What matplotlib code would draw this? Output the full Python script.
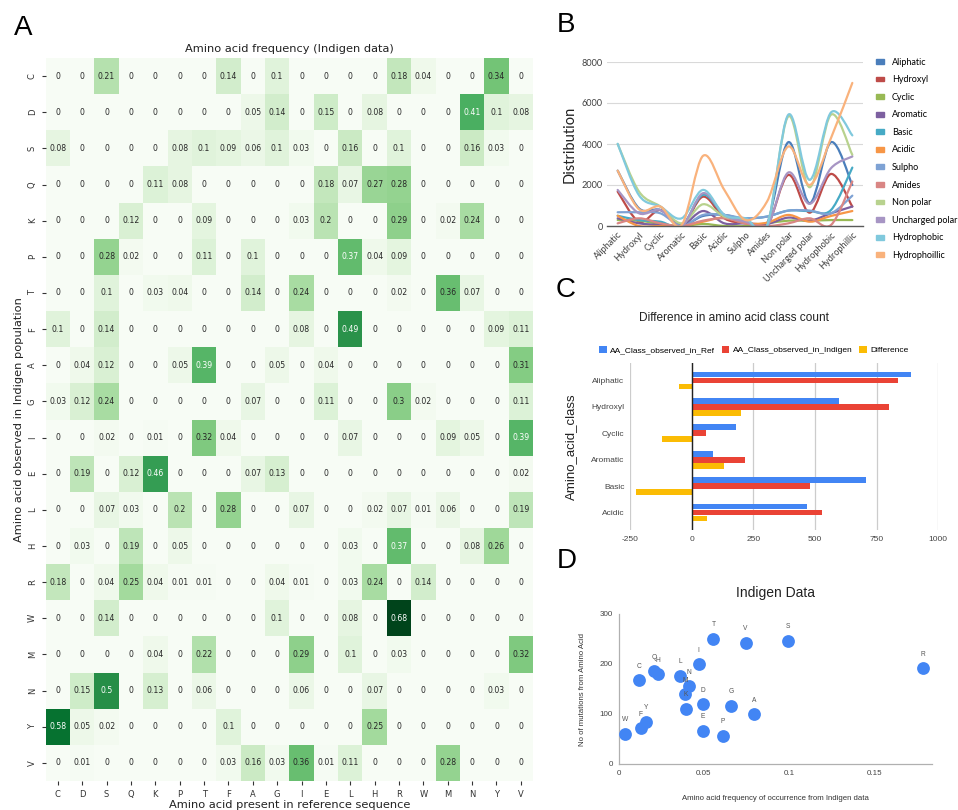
import numpy as np
import seaborn as sns
from matplotlib import pyplot as plt
from matplotlib.path import Path
from matplotlib.patches import PathPatch, Patch

plt.rcParams['axes.unicode_minus'] = False

# ---- panel A: amino acid substitution frequency (rows = observed, cols = reference)
aa_ref = ['C', 'D', 'S', 'Q', 'K', 'P', 'T', 'F', 'A', 'G', 'I', 'E', 'L', 'H', 'R', 'W', 'M', 'N', 'Y', 'V']
aa_obs = ['C', 'D', 'S', 'Q', 'K', 'P', 'T', 'F', 'A', 'G', 'I', 'E', 'L', 'H', 'R', 'W', 'M', 'N', 'Y', 'V']
freq = [
    [0, 0, 0.21, 0, 0, 0, 0, 0.14, 0, 0.1, 0, 0, 0, 0, 0.18, 0.04, 0, 0, 0.34, 0],
    [0, 0, 0, 0, 0, 0, 0, 0, 0.05, 0.14, 0, 0.15, 0, 0.08, 0, 0, 0, 0.41, 0.1, 0.08],
    [0.08, 0, 0, 0, 0, 0.08, 0.1, 0.09, 0.06, 0.1, 0.03, 0, 0.16, 0, 0.1, 0, 0, 0.16, 0.03, 0],
    [0, 0, 0, 0, 0.11, 0.08, 0, 0, 0, 0, 0, 0.18, 0.07, 0.27, 0.28, 0, 0, 0, 0, 0],
    [0, 0, 0, 0.12, 0, 0, 0.09, 0, 0, 0, 0.03, 0.2, 0, 0, 0.29, 0, 0.02, 0.24, 0, 0],
    [0, 0, 0.28, 0.02, 0, 0, 0.11, 0, 0.1, 0, 0, 0, 0.37, 0.04, 0.09, 0, 0, 0, 0, 0],
    [0, 0, 0.1, 0, 0.03, 0.04, 0, 0, 0.14, 0, 0.24, 0, 0, 0, 0.02, 0, 0.36, 0.07, 0, 0],
    [0.1, 0, 0.14, 0, 0, 0, 0, 0, 0, 0, 0.08, 0, 0.49, 0, 0, 0, 0, 0, 0.09, 0.11],
    [0, 0.04, 0.12, 0, 0, 0.05, 0.39, 0, 0, 0.05, 0, 0.04, 0, 0, 0, 0, 0, 0, 0, 0.31],
    [0.03, 0.12, 0.24, 0, 0, 0, 0, 0, 0.07, 0, 0, 0.11, 0, 0, 0.3, 0.02, 0, 0, 0, 0.11],
    [0, 0, 0.02, 0, 0.01, 0, 0.32, 0.04, 0, 0, 0, 0, 0.07, 0, 0, 0, 0.09, 0.05, 0, 0.39],
    [0, 0.19, 0, 0.12, 0.46, 0, 0, 0, 0.07, 0.13, 0, 0, 0, 0, 0, 0, 0, 0, 0, 0.02],
    [0, 0, 0.07, 0.03, 0, 0.2, 0, 0.28, 0, 0, 0.07, 0, 0, 0.02, 0.07, 0.01, 0.06, 0, 0, 0.19],
    [0, 0.03, 0, 0.19, 0, 0.05, 0, 0, 0, 0, 0, 0, 0.03, 0, 0.37, 0, 0, 0.08, 0.26, 0],
    [0.18, 0, 0.04, 0.25, 0.04, 0.01, 0.01, 0, 0, 0.04, 0.01, 0, 0.03, 0.24, 0, 0.14, 0, 0, 0, 0],
    [0, 0, 0.14, 0, 0, 0, 0, 0, 0, 0.1, 0, 0, 0.08, 0, 0.68, 0, 0, 0, 0, 0],
    [0, 0, 0, 0, 0.04, 0, 0.22, 0, 0, 0, 0.29, 0, 0.1, 0, 0.03, 0, 0, 0, 0, 0.32],
    [0, 0.15, 0.5, 0, 0.13, 0, 0.06, 0, 0, 0, 0.06, 0, 0, 0.07, 0, 0, 0, 0, 0.03, 0],
    [0.58, 0.05, 0.02, 0, 0, 0, 0, 0.1, 0, 0, 0, 0, 0, 0.25, 0, 0, 0, 0, 0, 0],
    [0, 0.01, 0, 0, 0, 0, 0, 0.03, 0.16, 0.03, 0.36, 0.01, 0.11, 0, 0, 0, 0.28, 0, 0, 0],
]

# ---- panel B: class distribution
b_categories = ['Aliphatic', 'Hydroxyl', 'Cyclic', 'Aromatic', 'Basic', 'Acidic', 'Sulpho', 'Amides',
                'Non polar', 'Uncharged polar', 'Hydrophobic', 'Hydrophillic']
aliphatic = [2700, 860, 780, 50, 490, 540, 290, 130, 4090, 1110, 4090, 2000]
hydroxyl = [1680, 210, 780, 0, 1430, 375, 130, 0, 2490, 650, 2540, 950]
cyclic = [290, 260, 100, 0, 100, 0, 0, 130, 260, 260, 290, 290]
aromatic = [375, 130, 50, 0, 730, 130, 130, 100, 410, 260, 620, 950]
basic = [500, 290, 210, 0, 1520, 540, 375, 460, 750, 730, 780, 2850]
acidic = [500, 0, 0, 0, 210, 410, 130, 160, 540, 210, 490, 730]
sulpho = [670, 670, 620, 0, 540, 540, 375, 460, 750, 750, 620, 1480]
amides = [130, 375, 130, 0, 260, 375, 130, 0, 130, 375, 50, 2170]
non_polar = [4000, 1680, 950, 130, 1060, 460, 290, 0, 5350, 1890, 5430, 3470]
uncharged_polar = [1760, 620, 780, 0, 1600, 540, 210, 0, 2610, 1080, 2820, 3390]
hydrophobic = [4010, 1500, 950, 375, 1760, 540, 375, 0, 5430, 2250, 5540, 4420]
hydrophillic = [2700, 815, 950, 50, 3420, 1760, 290, 1190, 3880, 2000, 4290, 6980]
b_series = [('Aliphatic', aliphatic, '#4a7ebb'), ('Hydroxyl', hydroxyl, '#be4b48'),
            ('Cyclic', cyclic, '#98b954'), ('Aromatic', aromatic, '#7d60a0'),
            ('Basic', basic, '#46aac5'), ('Acidic', acidic, '#f79646'),
            ('Sulpho', sulpho, '#7ea2d4'), ('Amides', amides, '#d98684'),
            ('Non polar', non_polar, '#b8d28e'), ('Uncharged polar', uncharged_polar, '#a795c4'),
            ('Hydrophobic', hydrophobic, '#80c9dd'), ('Hydrophoillic', hydrophillic, '#f9b27c')]

# ---- panel C: class counts
c_classes = ['Aliphatic', 'Hydroxyl', 'Cyclic', 'Aromatic', 'Basic', 'Acidic']
count_ref = [888, 599, 178, 86, 707, 466]
count_indigen = [835, 801, 58, 218, 481, 527]
count_diff = [-53, 202, -120, 132, -226, 61]

# ---- panel D: frequency vs number of mutations
d_labels = ['W', 'F', 'Y', 'C', 'Q', 'H', 'L', 'N', 'M', 'K', 'I', 'T', 'V', 'S', 'R', 'D', 'G', 'A', 'E', 'P']
d_freq = [0.0037, 0.013, 0.016, 0.012, 0.021, 0.023, 0.036, 0.041, 0.039, 0.0395,
          0.047, 0.0556, 0.0745, 0.0996, 0.1786, 0.0494, 0.066, 0.0796, 0.0494, 0.061]
d_mutations = [61, 72, 85, 168, 186, 180, 177, 156, 140, 111,
               200, 251, 243, 247, 192, 120, 117, 100, 67, 57]


def smooth_path(xs, ys):
    # excel-like smoothed line as cubic bezier segments
    pts = np.column_stack([xs, ys]).astype(float)
    n = len(pts)
    verts = [pts[0]]
    codes = [Path.MOVETO]
    for i in range(n - 1):
        p0 = pts[i - 1] if i > 0 else pts[i]
        p1 = pts[i]
        p2 = pts[i + 1]
        p3 = pts[i + 2] if i + 2 < n else pts[i + 1]
        verts += [p1 + (p2 - p0) / 6, p2 - (p3 - p1) / 6, p2]
        codes += [Path.CURVE4] * 3
    return Path(verts, codes)


W, H = 958, 810
fig = plt.figure(figsize=(W / 100, H / 100), dpi=100)


def px_axes(l, t, r, b):
    return fig.add_axes([l / W, 1 - b / H, (r - l) / W, (b - t) / H])


# ---------------- A
ax0 = px_axes(45.7, 58, 533, 781)
sns.heatmap(np.array(freq), ax=ax0, cmap='Greens', annot=True, fmt='g', cbar=False,
            xticklabels=aa_ref, yticklabels=aa_obs, annot_kws={'size': 5.6})
ax0.set_yticklabels(aa_obs, rotation=90, fontsize=6, va='center', color='#333333')
ax0.set_xticklabels(aa_ref, rotation=0, fontsize=6, color='#333333')
ax0.tick_params(length=3, width=0.8, colors='#333333')
ax0.set_title('Amino acid frequency (Indigen data)', fontsize=8.2, pad=4, color='#222222')
ax0.set_xlabel('Amino acid present in reference sequence', fontsize=8.2, labelpad=1, color='#222222')
ax0.set_ylabel('Amino acid observed in Indigen population', fontsize=8.2, labelpad=3, color='#222222')

# ---------------- B
ax1 = px_axes(607, 62, 863, 226)
xb = np.arange(len(b_categories))
for name, vals, col in b_series:
    ax1.add_patch(PathPatch(smooth_path(xb, vals), fill=False, edgecolor=col, lw=1.6,
                            capstyle='round', joinstyle='round'))
ax1.set_xlim(-0.5, len(b_categories) - 0.5)
ax1.set_ylim(0, 8000)
ax1.set_yticks([0, 2000, 4000, 6000, 8000])
ax1.grid(axis='y', color='#d9d9d9', lw=0.8)
ax1.set_axisbelow(True)
for s in ['top', 'right', 'left']:
    ax1.spines[s].set_visible(False)
ax1.spines['bottom'].set_color('#595959')
ax1.spines['bottom'].set_linewidth(1.0)
ax1.tick_params(length=0, labelsize=6.6, colors='#404040', pad=3)
ax1.set_xticks(xb)
ax1.set_xticklabels(b_categories, rotation=45, ha='right', rotation_mode='anchor', family='Lato')
for lab in ax1.get_yticklabels():
    lab.set_family('Lato')
ax1.set_ylabel('Distribution', fontsize=10.5, family='Lato', labelpad=4, color='#222222')
handles = [Patch(color=col, label=name) for name, vals, col in b_series]
fig.legend(handles=handles, loc='upper left', bbox_to_anchor=(872 / W, 1 - 54 / H), frameon=False,
           prop={'family': 'Lato', 'size': 6.5}, handlelength=0.9, handleheight=0.45,
           handletextpad=0.9, labelspacing=0.95, borderaxespad=0)

# ---------------- C
ax2 = px_axes(630, 363, 938.3, 530)
yc = np.arange(len(c_classes))
bh = 0.215
off = 0.228
ax2.barh(yc - off, count_ref, height=bh, color='#4285f4', label='AA_Class_observed_in_Ref')
ax2.barh(yc, count_indigen, height=bh, color='#ea4335', label='AA_Class_observed_in_Indigen')
ax2.barh(yc + off, count_diff, height=bh, color='#fbbc04', label='Difference')
ax2.set_xlim(-250, 1000)
pad = (167 / 26.4 - 6) / 2
ax2.set_ylim(len(c_classes) - 0.5 + pad, -0.5 - pad)
ax2.set_xticks([-250, 0, 250, 500, 750, 1000])
ax2.set_yticks(yc)
ax2.set_yticklabels(c_classes)
ax2.grid(axis='x', color='#cccccc', lw=0.9)
ax2.set_axisbelow(True)
ax2.axvline(0, color='#222222', lw=1.0)
for s in ax2.spines.values():
    s.set_visible(False)
ax2.tick_params(length=0, labelsize=6.0, colors='#444444', pad=4)
for lab in ax2.get_xticklabels() + ax2.get_yticklabels():
    lab.set_family('Liberation Sans')
ax2.set_ylabel('Amino_acid_class', fontsize=9.5, family='Liberation Sans', labelpad=10, color='#222222')
fig.text(734 / W, 1 - 318 / H, 'Difference in amino acid class count', ha='center', va='center',
         fontsize=8.6, family='Liberation Sans', color='#222222')
fig.legend(*ax2.get_legend_handles_labels(), loc='center left', bbox_to_anchor=(596 / W, 1 - 350 / H),
           ncol=3, frameon=False, prop={'family': 'Liberation Sans', 'size': 6.0},
           handlelength=0.9, handleheight=0.9, handletextpad=0.4, columnspacing=0.8, borderaxespad=0)

# ---------------- D
ax3 = px_axes(618.7, 614, 931.7, 764)
ax3.scatter(d_freq, d_mutations, s=85, color='#4285f4', zorder=3, linewidths=0)
for lab, x, y in zip(d_labels, d_freq, d_mutations):
    ax3.annotate(lab, (x, y), xytext=(0, 10), textcoords='offset points', ha='center', va='center',
                 fontsize=4.8, color='#555555', family='Liberation Sans')
ax3.set_xlim(0, 0.1837)
ax3.set_ylim(0, 300)
ax3.set_xticks([0, 0.05, 0.1, 0.15])
ax3.set_xticklabels(['0', '0.05', '0.1', '0.15'])
ax3.set_yticks([0, 100, 200, 300])
for s in ['top', 'right']:
    ax3.spines[s].set_visible(False)
for s in ['left', 'bottom']:
    ax3.spines[s].set_color('#b0b0b0')
    ax3.spines[s].set_linewidth(0.9)
ax3.tick_params(length=0, labelsize=5.8, colors='#444444', pad=4)
for lab in ax3.get_xticklabels() + ax3.get_yticklabels():
    lab.set_family('Liberation Sans')
ax3.set_title('Indigen Data', fontsize=10, family='Liberation Sans', pad=12, color='#222222')
ax3.set_xlabel('Amino acid frequency of occurrence from Indigen data', fontsize=5.6,
               family='Liberation Sans', labelpad=13, color='#333333')
ax3.set_ylabel('No of mutations from Amino Acid', fontsize=5.6, family='Liberation Sans',
               labelpad=10, color='#333333')

# panel letters
for letter, x, y in [('A', 23, 28), ('B', 566, 25), ('C', 566, 290), ('D', 567, 561)]:
    fig.text(x / W, 1 - y / H, letter, ha='center', va='center', fontsize=20,
             family='Liberation Sans', color='black')

fig.savefig('out.png', dpi=100)
